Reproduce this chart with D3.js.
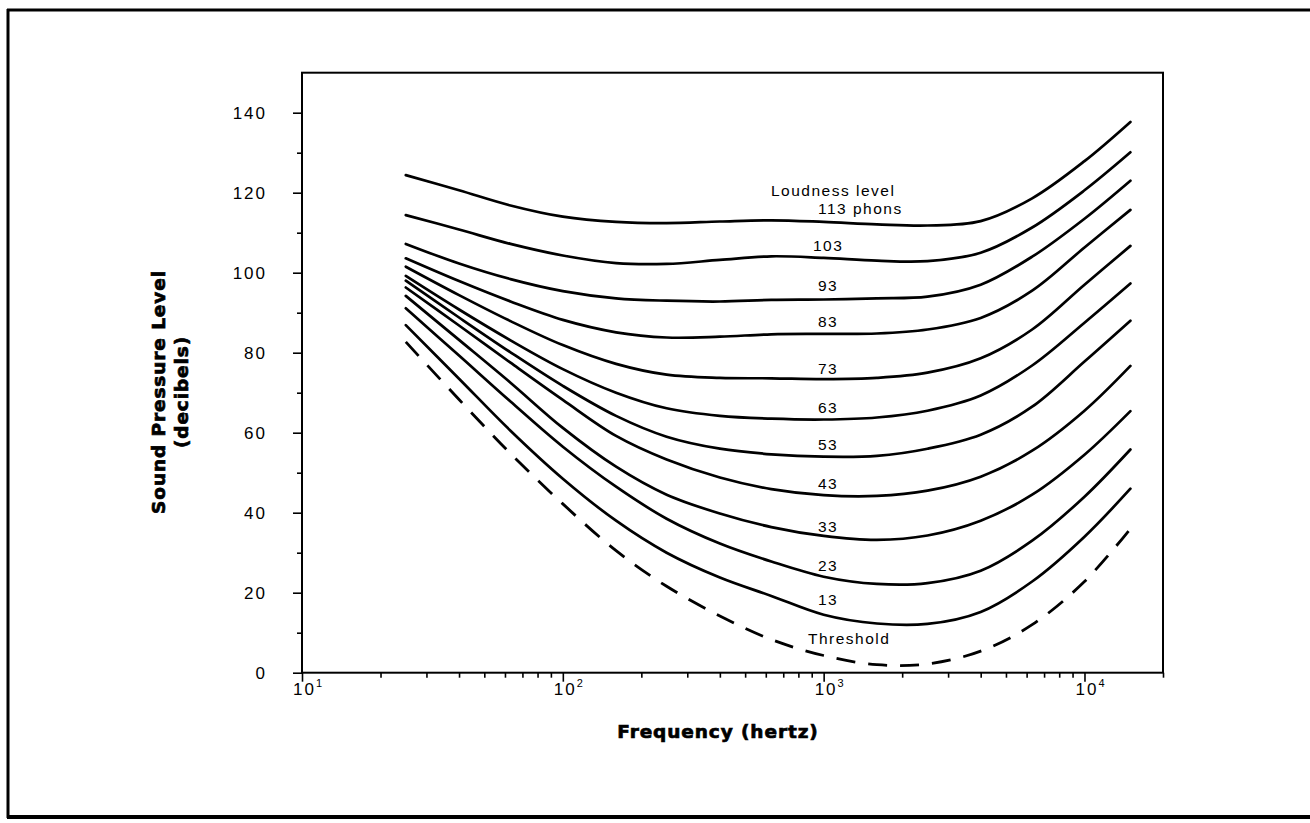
<!DOCTYPE html>
<html>
<head>
<meta charset="utf-8">
<script src="https://cdn.jsdelivr.net/npm/d3@7"></script>
<style>
  html, body { margin: 0; padding: 0; background: #fff; }
  svg { display: block; }
  .tick-label { font-family: "Liberation Sans", Arial, sans-serif; font-size: 17px; letter-spacing: 2px; fill: #000; }
  .curve-label { font-family: "Liberation Sans", Arial, sans-serif; font-size: 15.5px; letter-spacing: 1.5px; fill: #000; }
  .axis-title { font-family: "DejaVu Sans", sans-serif; font-weight: bold; font-size: 18.5px; letter-spacing: 0.9px; fill: #000; stroke: #000; stroke-width: 0.7px; }
</style>
</head>
<body>
<div id="chart"></div>
<script>
// ---- Data ----
const freqs = [25, 40, 63, 100, 160, 250, 400, 630, 1000, 1600, 2500, 4000, 6300, 10000, 15000];

const phon113 = [124.4, 120.6, 116.8, 114.0, 112.7, 112.4, 112.8, 113.1, 112.7, 112.1, 111.8, 112.9, 118.6, 127.9, 137.7];
const phon103 = [114.4, 110.8, 107.2, 104.3, 102.4, 102.2, 103.2, 104.1, 103.7, 103.0, 102.9, 105.0, 111.3, 120.6, 130.1];
const phon93  = [107.2, 102.3, 98.4, 95.4, 93.6, 93.0, 92.8, 93.2, 93.3, 93.6, 94.0, 97.0, 104.0, 113.5, 123.0];
const phon83  = [103.6, 97.9, 92.8, 88.2, 85.1, 83.8, 84.0, 84.6, 84.7, 84.8, 85.8, 88.7, 95.5, 106.3, 115.7];
const phon73  = [101.5, 94.4, 87.9, 81.9, 77.2, 74.5, 73.7, 73.6, 73.4, 73.7, 75.0, 78.6, 85.8, 97.0, 106.7];
const phon63  = [99.2, 90.8, 83.1, 75.9, 70.0, 66.1, 64.2, 63.5, 63.3, 63.8, 65.5, 69.3, 76.8, 87.5, 97.3];
const phon53  = [98.0, 88.8, 80.1, 71.7, 64.2, 59.0, 56.0, 54.6, 54.0, 54.2, 56.0, 59.5, 66.5, 77.8, 88.0];
const phon43  = [96.3, 86.8, 77.5, 68.2, 59.2, 53.3, 48.8, 45.9, 44.4, 44.2, 45.5, 49.0, 55.5, 65.5, 76.7];
const phon33  = [94.2, 83.2, 72.5, 61.2, 51.5, 44.5, 39.8, 36.4, 34.2, 33.2, 34.3, 38.0, 44.5, 54.5, 65.4];
const phon23  = [91.1, 79.3, 67.8, 56.5, 46.5, 38.5, 32.3, 27.8, 24.0, 22.2, 22.4, 25.5, 33.0, 44.0, 55.8];
const phon13  = [86.9, 73.5, 60.5, 48.5, 38.0, 30.0, 23.8, 19.2, 14.5, 12.3, 12.2, 15.2, 22.8, 34.0, 46.0];
const threshold = [82.7, 68.3, 54.8, 42.2, 30.5, 21.6, 14.2, 8.3, 4.3, 2.0, 2.2, 5.4, 12.0, 22.8, 36.0];

const labelText = ["Loudness level", "113 phons", "103", "93", "83", "73", "63", "53", "43", "33", "23", "13", "Threshold"];
const labelFreq = [628, 951, 1040, 1040, 1040, 1040, 1040, 1040, 1040, 1040, 1040, 1040, 871];
const labelDb   = [119.2, 114.7, 105.5, 95.4, 86.4, 74.8, 65.0, 55.7, 45.9, 35.25, 25.4, 16.9, 7.2];

const yMajor = [0, 20, 40, 60, 80, 100, 120, 140];
const yMinor = [10, 30, 50, 70, 90, 110, 130];
const xMajor = [10, 100, 1000, 10000];
const xExp   = ["1", "2", "3", "4"];

// ---- Setup ----
const W = 1310, H = 823;
const svg = d3.select("#chart").append("svg")
  .attr("width", W).attr("height", H);

const x = d3.scaleLog().domain([10, 20000]).range([302, 1163]);
const y = d3.scaleLinear().domain([0, 150]).range([672.7, 72.7]);

// minor x ticks: 2..9 in each decade inside the domain
const xMinor = [];
[10, 100, 1000, 10000].forEach(d => {
  for (let k = 2; k <= 9; k++) if (d * k <= 20000) xMinor.push(d * k);
});

// ---- Outer frame (scanned page border) ----
const frame = svg.append("g").attr("stroke", "#000").attr("fill", "none");
frame.append("line").attr("x1", 8).attr("x2", 8).attr("y1", 9).attr("y2", 818).attr("stroke-width", 3);
frame.append("line").attr("x1", 7).attr("x2", 1310).attr("y1", 10).attr("y2", 10).attr("stroke-width", 3);
frame.append("line").attr("x1", 7).attr("x2", 1310).attr("y1", 817).attr("y2", 817).attr("stroke-width", 4);

// ---- Axes ----
const yBottom = y(0), yTop = y(150);

svg.append("g")
  .attr("transform", `translate(0,${yBottom})`)
  .call(d3.axisBottom(x).tickValues(xMajor).tickSize(9).tickFormat(""))
  .call(g => g.select(".domain").remove());
svg.append("g")
  .attr("transform", `translate(0,${yBottom})`)
  .call(d3.axisBottom(x).tickValues(xMinor).tickSize(5).tickFormat(""))
  .call(g => g.select(".domain").remove());

svg.append("g")
  .attr("transform", `translate(${x(10)},0)`)
  .call(d3.axisLeft(y).tickValues(yMajor).tickSize(9).tickPadding(26))
  .call(g => g.select(".domain").remove())
  .call(g => g.selectAll(".tick text").attr("class", "tick-label"));
svg.append("g")
  .attr("transform", `translate(${x(10)},0)`)
  .call(d3.axisLeft(y).tickValues(yMinor).tickSize(5).tickFormat(""))
  .call(g => g.select(".domain").remove());

svg.selectAll("g[font-size]").attr("font-size", null).attr("font-family", null);
svg.selectAll(".tick line").attr("stroke", "#000").attr("stroke-width", 1.6);

// x tick labels as 10 with superscript exponent
const xl = svg.append("g").selectAll("text")
  .data(xMajor)
  .join("text")
  .attr("class", "tick-label")
  .attr("x", d => x(d) - 9)
  .attr("y", yBottom + 22);
xl.append("tspan").text("10");
xl.append("tspan").attr("dy", -8).attr("font-size", "11px").text((d, i) => xExp[i]);

// plot box
svg.append("rect")
  .attr("x", x(10)).attr("y", yTop)
  .attr("width", x(20000) - x(10)).attr("height", yBottom - yTop)
  .attr("fill", "none").attr("stroke", "#000").attr("stroke-width", 2);

// ---- Curves ----
const contours = [phon113, phon103, phon93, phon83, phon73, phon63, phon53, phon43, phon33, phon23, phon13];
const line = d3.line()
  .x((d, i) => x(freqs[i]))
  .y(d => y(d))
  .curve(d3.curveCatmullRom.alpha(0.5));

svg.append("g").selectAll("path")
  .data(contours)
  .join("path")
  .attr("d", line)
  .attr("fill", "none")
  .attr("stroke", "#000")
  .attr("stroke-width", 2.7)
  .attr("stroke-linecap", "round");

svg.append("path")
  .attr("d", line(threshold))
  .attr("fill", "none")
  .attr("stroke", "#000")
  .attr("stroke-width", 2.8)
  .attr("stroke-dasharray", "19,13");

// ---- Curve labels ----
svg.append("g").selectAll("text")
  .data(labelText)
  .join("text")
  .attr("class", "curve-label")
  .attr("x", (d, i) => x(labelFreq[i]))
  .attr("y", (d, i) => y(labelDb[i]))
  .attr("text-anchor", d => /^\d+$/.test(d) ? "middle" : "start")
  .text(d => d);

// ---- Axis titles ----
svg.append("text")
  .attr("class", "axis-title")
  .attr("x", 718).attr("y", 738)
  .attr("text-anchor", "middle")
  .text("Frequency (hertz)");

svg.append("text")
  .attr("class", "axis-title")
  .attr("transform", "translate(165,392) rotate(-90)")
  .attr("text-anchor", "middle")
  .text("Sound Pressure Level");
svg.append("text")
  .attr("class", "axis-title")
  .attr("transform", "translate(188,392) rotate(-90)")
  .attr("text-anchor", "middle")
  .text("(decibels)");
</script>
</body>
</html>
